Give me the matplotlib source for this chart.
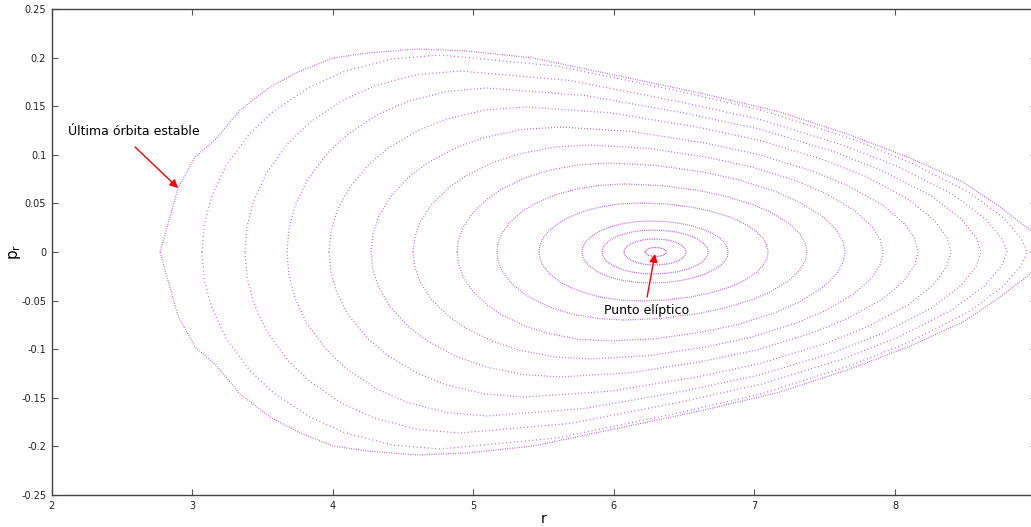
import matplotlib
matplotlib.use("Agg")
import matplotlib.pyplot as plt
import numpy as np

# upper half of each orbit in the Poincare section (r, p_r)
# the section is symmetric in p_r, the lower half is the mirror image
orbits_r = [
    [2.771, 2.899, 3.020, 3.169, 3.340, 3.553, 3.752, 4.001, 4.243, 4.599, 4.955,
     5.425, 5.901, 6.613, 7.182, 7.680, 8.107, 8.484, 8.747, 8.961, 9.047],
    [3.069, 3.086, 3.137, 3.238, 3.408, 3.577, 3.831, 4.085, 4.424, 4.763,
     5.598, 6.433, 7.060, 7.686, 8.104, 8.521, 8.772, 8.897, 8.939],
    [3.375, 3.390, 3.436, 3.528, 3.681, 3.834, 4.063, 4.293, 4.599, 4.905,
     5.683, 6.462, 7.046, 7.629, 8.019, 8.408, 8.641, 8.758, 8.797],
    [3.674, 3.688, 3.731, 3.816, 3.959, 4.101, 4.314, 4.528, 4.812, 5.097,
     5.800, 6.503, 7.030, 7.558, 7.909, 8.261, 8.471, 8.577, 8.612],
    [3.973, 3.987, 4.029, 4.112, 4.252, 4.391, 4.600, 4.809, 5.088, 5.367,
     5.973, 6.580, 7.035, 7.489, 7.793, 8.096, 8.278, 8.369, 8.399],
    [4.272, 4.285, 4.326, 4.406, 4.541, 4.675, 4.877, 5.079, 5.348, 5.617,
     6.126, 6.636, 7.018, 7.400, 7.655, 7.909, 8.062, 8.139, 8.164],
    [4.571, 4.584, 4.621, 4.697, 4.823, 4.949, 5.138, 5.326, 5.578, 5.830,
     6.247, 6.664, 6.977, 7.290, 7.498, 7.707, 7.832, 7.894, 7.915],
    [4.884, 4.895, 4.928, 4.993, 5.102, 5.210, 5.374, 5.537, 5.754, 5.972,
     6.307, 6.641, 6.892, 7.143, 7.310, 7.478, 7.578, 7.628, 7.645],
    [5.168, 5.177, 5.204, 5.259, 5.350, 5.441, 5.578, 5.715, 5.897, 6.079,
     6.338, 6.597, 6.791, 6.986, 7.115, 7.245, 7.322, 7.361, 7.374],
    [5.467, 5.474, 5.496, 5.539, 5.611, 5.683, 5.791, 5.898, 6.042, 6.186,
     6.368, 6.550, 6.687, 6.824, 6.915, 7.006, 7.061, 7.088, 7.097],
    [5.773, 5.778, 5.792, 5.821, 5.870, 5.918, 5.991, 6.063, 6.160, 6.257,
     6.368, 6.479, 6.562, 6.646, 6.701, 6.757, 6.790, 6.806, 6.812],
    [5.915, 5.919, 5.930, 5.951, 5.988, 6.024, 6.078, 6.133, 6.205, 6.278,
     6.356, 6.435, 6.494, 6.552, 6.592, 6.631, 6.654, 6.666, 6.670],
    [6.072, 6.074, 6.081, 6.094, 6.116, 6.138, 6.171, 6.204, 6.248, 6.292,
     6.336, 6.380, 6.414, 6.447, 6.469, 6.491, 6.504, 6.511, 6.513],
    [6.221, 6.222, 6.224, 6.229, 6.236, 6.244, 6.255, 6.266, 6.281, 6.296,
     6.311, 6.326, 6.337, 6.349, 6.356, 6.364, 6.368, 6.370, 6.371],
]
orbits_p = [
    [0.0, 0.0658, 0.0977, 0.1163, 0.1461, 0.1698, 0.1852, 0.1996, 0.2047, 0.2088, 0.2068,
     0.1996, 0.1852, 0.1636, 0.1440, 0.1204, 0.0967, 0.0720, 0.0463, 0.0226, 0.0],
    [0.0, 0.0286, 0.0568, 0.0884, 0.1216, 0.1447, 0.1693, 0.1859, 0.1986, 0.2027,
     0.1913, 0.1664, 0.1455, 0.1166, 0.0924, 0.0618, 0.0349, 0.0138, 0.0],
    [0.0, 0.0263, 0.0521, 0.0812, 0.1117, 0.1329, 0.1555, 0.1707, 0.1825, 0.1862,
     0.1765, 0.1547, 0.1361, 0.1100, 0.0879, 0.0594, 0.0343, 0.0142, 0.0],
    [0.0, 0.0238, 0.0472, 0.0736, 0.1012, 0.1205, 0.1409, 0.1547, 0.1653, 0.1687,
     0.1609, 0.1429, 0.1267, 0.1036, 0.0837, 0.0575, 0.0341, 0.0148, 0.0],
    [0.0, 0.0210, 0.0418, 0.0651, 0.0895, 0.1065, 0.1246, 0.1368, 0.1462, 0.1492,
     0.1432, 0.1289, 0.1149, 0.0950, 0.0776, 0.0542, 0.0328, 0.0149, 0.0],
    [0.0, 0.0181, 0.0360, 0.0561, 0.0772, 0.0918, 0.1074, 0.1179, 0.1260, 0.1286,
     0.1240, 0.1124, 0.1007, 0.0838, 0.0689, 0.0486, 0.0298, 0.0140, 0.0],
    [0.0, 0.0155, 0.0308, 0.0480, 0.0661, 0.0786, 0.0919, 0.1010, 0.1079, 0.1101,
     0.1066, 0.0974, 0.0876, 0.0735, 0.0608, 0.0432, 0.0269, 0.0129, 0.0],
    [0.0, 0.0129, 0.0256, 0.0399, 0.0550, 0.0654, 0.0765, 0.0840, 0.0898, 0.0916,
     0.0890, 0.0821, 0.0741, 0.0626, 0.0520, 0.0373, 0.0234, 0.0115, 0.0],
    [0.0, 0.0099, 0.0196, 0.0305, 0.0420, 0.0500, 0.0585, 0.0642, 0.0686, 0.0700,
     0.0683, 0.0634, 0.0575, 0.0489, 0.0409, 0.0295, 0.0188, 0.0093, 0.0],
    [0.0, 0.0071, 0.0141, 0.0220, 0.0302, 0.0360, 0.0421, 0.0462, 0.0494, 0.0504,
     0.0494, 0.0462, 0.0421, 0.0360, 0.0302, 0.0220, 0.0141, 0.0071, 0.0],
    [0.0, 0.0045, 0.0089, 0.0139, 0.0191, 0.0228, 0.0266, 0.0293, 0.0313, 0.0319,
     0.0313, 0.0293, 0.0266, 0.0228, 0.0191, 0.0139, 0.0089, 0.0045, 0.0],
    [0.0, 0.0032, 0.0063, 0.0099, 0.0136, 0.0161, 0.0189, 0.0207, 0.0221, 0.0226,
     0.0221, 0.0207, 0.0189, 0.0161, 0.0136, 0.0099, 0.0063, 0.0032, 0.0],
    [0.0, 0.0019, 0.0038, 0.0058, 0.0080, 0.0096, 0.0112, 0.0123, 0.0131, 0.0134,
     0.0131, 0.0123, 0.0112, 0.0096, 0.0080, 0.0058, 0.0038, 0.0019, 0.0],
    [0.0, 0.0007, 0.0013, 0.0020, 0.0028, 0.0033, 0.0038, 0.0042, 0.0045, 0.0046,
     0.0045, 0.0042, 0.0038, 0.0033, 0.0028, 0.0020, 0.0013, 0.0007, 0.0],
]

xticks = [2, 3, 4, 5, 6, 7, 8]
yticks = [-0.25, -0.2, -0.15, -0.1, -0.05, 0, 0.05, 0.1, 0.15, 0.2, 0.25]
ytick_labels = ["-0.25", "-0.2", "-0.15", "-0.1", "-0.05", "0",
                "0.05", "0.1", "0.15", "0.2", "0.25"]

# annotations: (text position, arrow tail, arrow head) in data coords
last_orbit_label = "Última órbita estable"
last_orbit_xy = (2.116, 0.1235)
last_orbit_arrow = ((2.593, 0.108), (2.899, 0.0658))
elliptic_label = "Punto elíptico"
elliptic_xy = (6.229, -0.0597)
elliptic_arrow = ((6.236, -0.0463), (6.292, -0.002))

color = "#9400D3"
# outer orbits are sampled more sparsely than the inner rings
dot_gaps = [1.3, 2.4, 2.2, 2.0, 2.0, 1.8, 1.7, 1.5, 1.3, 1.1, 1.0, 0.9, 0.8, 0.6]

W, H = 1031, 527
fig = plt.figure(figsize=(W / 100, H / 100), dpi=100)
# right edge of the axes lies past the figure border, as in the original
ax = fig.add_axes([51.7 / W, 32 / H, 983.9 / W, 486 / H])

for r, p, gap in zip(orbits_r, orbits_p, dot_gaps):
    r_full = list(r) + list(r[::-1][1:])
    p_full = list(p) + [-v for v in p[::-1][1:]]
    ax.plot(r_full, p_full, color=color, lw=0.9, alpha=0.75,
            linestyle=(0, (0.6, gap)), dash_capstyle="butt")

ax.set_xlim(2, 9)
ax.set_ylim(-0.25, 0.25)
ax.set_xticks(xticks)
ax.set_xticklabels([str(t) for t in xticks])
ax.set_yticks(yticks)
ax.set_yticklabels(ytick_labels)
ax.tick_params(direction="in", length=4, width=0.8, color="#555555",
               labelsize=7, labelcolor="#222222", top=True, right=True, pad=4)
for s in ax.spines.values():
    s.set_color("#444444")
    s.set_linewidth(1.0)

ax.set_xlabel("r", fontsize=10, labelpad=1)
fig.text(15 / W, 1 - 252 / H, r"$\mathregular{p_r}$", fontsize=11,
         rotation=90, ha="center", va="center")

ax.text(*last_orbit_xy, last_orbit_label, fontsize=9, ha="left", va="center")
ax.annotate("", xy=last_orbit_arrow[1], xytext=last_orbit_arrow[0],
            arrowprops=dict(arrowstyle="-|>", color="red", lw=1.0,
                            mutation_scale=12, shrinkA=0, shrinkB=0))
ax.text(*elliptic_xy, elliptic_label, fontsize=9, ha="center", va="center")
ax.annotate("", xy=elliptic_arrow[1], xytext=elliptic_arrow[0],
            arrowprops=dict(arrowstyle="-|>", color="red", lw=1.0,
                            mutation_scale=12, shrinkA=0, shrinkB=0))

fig.savefig("out.png", dpi=100)
